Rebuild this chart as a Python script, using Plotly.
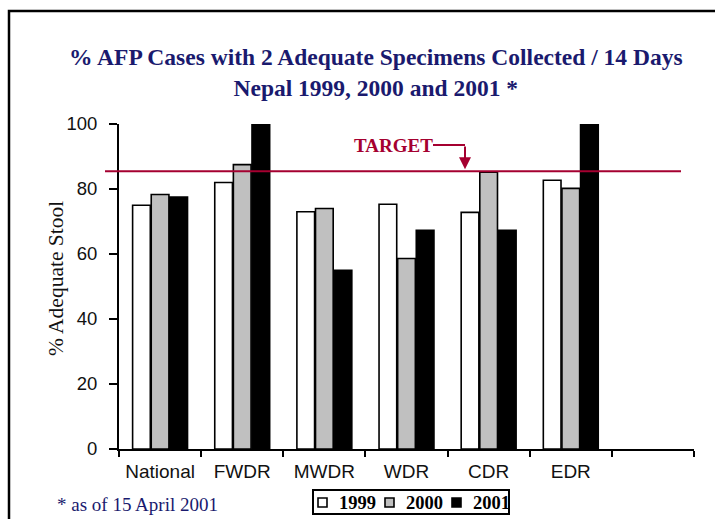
import plotly.graph_objects as go

# Regions (x categories) and the three survey years
regions = ["National", "FWDR", "MWDR", "WDR", "CDR", "EDR"]
years = ["1999", "2000", "2001"]

pct_1999 = [75, 82, 73, 75.3, 72.8, 82.7]
pct_2000 = [78.3, 87.5, 74, 58.6, 85.2, 80.2]
pct_2001 = [77.5, 100, 55, 67.3, 67.3, 100]

target = 85.5
y_ticks = [0, 20, 40, 60, 80, 100]

bar_fill = ["#FFFFFF", "#C0C0C0", "#000000"]
navy = "#1A1A6E"
crimson = "#A50030"
serif = "Times New Roman, Liberation Serif, serif"
sans = "Arial, Liberation Sans, sans-serif"

# plot-area geometry (pixels) used to place decorations
L, R, T, B = 119, 21, 124, 70
W, H = 715, 519
pw, ph = W - L - R, H - T - B


def px_x(p):
    return (p - L) / pw


def px_y(p):
    return (H - B - p) / ph


n_slots = len(regions) + 1  # one empty slot to the right of EDR
slot = pw / n_slots
x_idx = list(range(len(regions)))

fig = go.Figure()
for name, vals, col in zip(years, [pct_1999, pct_2000, pct_2001], bar_fill):
    fig.add_trace(go.Bar(
        x=x_idx, y=vals, name=name, showlegend=False,
        marker=dict(color=col, line=dict(color="black", width=1.6)),
    ))

fig.update_layout(
    width=W, height=H,
    margin=dict(l=L, r=R, t=T, b=B, autoexpand=False),
    paper_bgcolor="white", plot_bgcolor="white",
    barmode="group", bargap=0.32, bargroupgap=0.05,
    xaxis=dict(
        range=[-0.5, n_slots - 0.5],
        tickmode="array", tickvals=x_idx, ticktext=regions,
        ticks="", showgrid=False, zeroline=False,
        showline=True, linecolor="black", linewidth=2,
        tickfont=dict(family=sans, size=19, color="#111111"),
        ticklabelstandoff=4,
        minor=dict(
            tickmode="array",
            tickvals=[i - 0.5 for i in range(n_slots + 1)],
            ticks="outside", ticklen=6, tickwidth=2, tickcolor="black",
            showgrid=False,
        ),
        fixedrange=True,
    ),
    yaxis=dict(
        range=[0, 100],
        tickmode="array", tickvals=y_ticks,
        ticks="outside", ticklen=8, tickwidth=2, tickcolor="black",
        showgrid=False, zeroline=False,
        showline=True, linecolor="black", linewidth=2,
        tickfont=dict(family=sans, size=18.5, color="#111111"),
        ticklabelstandoff=8,
        fixedrange=True,
    ),
)

# target line
fig.add_shape(type="line", xref="paper", yref="y",
              x0=px_x(105), x1=px_x(681), y0=target, y1=target,
              line=dict(color=crimson, width=2))

# "TARGET" label with elbow arrow pointing down to the line
arrow_x = (465 - L) / slot - 0.5
elbow_y = (H - B - 145) / ph * 100
fig.add_annotation(x=(393 - L) / slot - 0.5, y=elbow_y,
                   xref="x", yref="y", text="TARGET", showarrow=False,
                   font=dict(family=serif, size=19, color=crimson, weight="bold"),
                   xanchor="center", yanchor="middle")
fig.add_shape(type="line", xref="x", yref="y",
              x0=(433 - L) / slot - 0.5, x1=arrow_x,
              y0=elbow_y, y1=elbow_y,
              line=dict(color=crimson, width=2))
fig.add_annotation(x=arrow_x, y=target, xref="x", yref="y",
                   ax=arrow_x, ay=elbow_y, axref="x", ayref="y",
                   text="", showarrow=True, arrowhead=2, arrowsize=1.2,
                   arrowwidth=2, arrowcolor=crimson, standoff=2)

# title
fig.add_annotation(x=px_x(376), y=px_y(72), xref="paper", yref="paper",
                   text="% AFP Cases with 2 Adequate Specimens Collected / 14 Days<br>"
                        "Nepal 1999, 2000 and 2001 *",
                   showarrow=False, xanchor="center", yanchor="middle",
                   font=dict(family=serif, size=23.5, color=navy, weight="bold"))

# y-axis title
fig.add_annotation(x=px_x(56), y=px_y(279), xref="paper", yref="paper",
                   text="% Adequate Stool", textangle=-90, showarrow=False,
                   xanchor="center", yanchor="middle",
                   font=dict(family=serif, size=21.5, color="#111111"))

# footnote
fig.add_annotation(x=px_x(55), y=px_y(504), xref="paper", yref="paper",
                   text="* as of 15 April 2001", showarrow=False,
                   xanchor="left", yanchor="middle",
                   font=dict(family=serif, size=19, color=navy))

# compact boxed key below the axis
fig.add_shape(type="rect", xref="paper", yref="paper",
              x0=px_x(313), x1=px_x(509), y0=px_y(514), y1=px_y(490),
              line=dict(color="black", width=2), fillcolor="white")
for i, (name, col) in enumerate(zip(years, bar_fill)):
    sx = 318 + i * 67
    fig.add_shape(type="rect", xref="paper", yref="paper",
                  x0=px_x(sx), x1=px_x(sx + 9), y0=px_y(507), y1=px_y(498),
                  line=dict(color="black", width=1.6), fillcolor=col)
    fig.add_annotation(x=px_x(sx + 19), y=px_y(502.5), xref="paper", yref="paper",
                       text=name, showarrow=False, xanchor="left", yanchor="middle",
                       font=dict(family=serif, size=18.5, color="black", weight="bold"))

# outer frame
fig.add_shape(type="rect", xref="paper", yref="paper",
              x0=px_x(9), x1=px_x(730), y0=px_y(540), y1=px_y(11),
              line=dict(color="black", width=2.5), layer="below")

fig.write_html("out.html")
